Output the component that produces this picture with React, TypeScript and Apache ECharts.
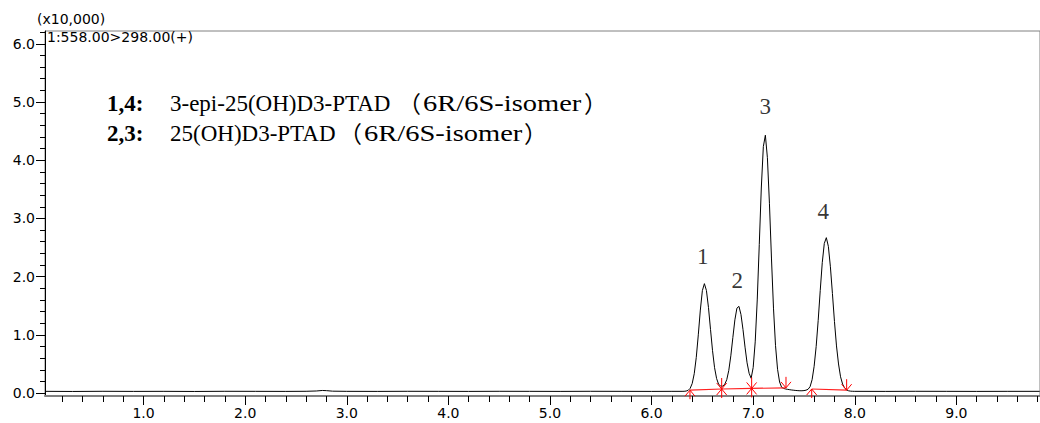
import React, { useEffect, useRef } from "react";
import * as echarts from "echarts";

// ---- chromatogram trace (retention time in min, intensity x10,000) ----
const traceTimes = [
  0.03, 0.3, 0.6, 0.9, 1.2, 1.5, 1.8, 2.1, 2.4, 2.6, 2.7, 2.76, 2.8, 2.86, 3.0,
  3.3, 3.6, 3.9, 4.2, 4.5, 4.8, 5.1, 5.4, 5.7, 6.0, 6.2,
  6.30, 6.32, 6.34, 6.36, 6.38, 6.40, 6.42, 6.44, 6.46, 6.48,
  6.50, 6.52, 6.54, 6.56, 6.58, 6.60, 6.62, 6.64, 6.66, 6.68,
  6.70, 6.72, 6.74, 6.76, 6.78, 6.80, 6.82, 6.84, 6.86, 6.88,
  6.90, 6.92, 6.94, 6.96, 6.98, 7.00, 7.02, 7.04, 7.06, 7.08,
  7.10, 7.12, 7.14, 7.16, 7.18, 7.20, 7.22, 7.24, 7.26, 7.28,
  7.30, 7.32, 7.34, 7.36, 7.38, 7.40, 7.42, 7.44, 7.46, 7.48,
  7.50, 7.52, 7.54, 7.56, 7.58, 7.60, 7.62, 7.64, 7.66, 7.68,
  7.70, 7.72, 7.74, 7.76, 7.78, 7.80, 7.82, 7.84, 7.86, 7.88,
  7.90, 7.92, 7.94, 7.96, 7.98, 8.00,
  8.3, 8.6, 8.9, 9.2, 9.5, 9.82,
];
const traceIntensity = [
  0.030, 0.028, 0.031, 0.029, 0.030, 0.028, 0.031, 0.030, 0.029, 0.031, 0.036, 0.045, 0.042, 0.033, 0.030,
  0.029, 0.031, 0.030, 0.029, 0.031, 0.030, 0.029, 0.031, 0.030, 0.029, 0.030,
  0.030, 0.031, 0.035, 0.047, 0.082, 0.165, 0.333, 0.613, 1.001, 1.426,
  1.760, 1.880, 1.762, 1.471, 1.094, 0.728, 0.436, 0.250, 0.150, 0.122,
  0.120, 0.150, 0.230, 0.390, 0.640, 0.954, 1.258, 1.459, 1.490, 1.349,
  1.090, 0.789, 0.520, 0.340, 0.255, 0.440, 0.880, 1.600, 2.551, 3.523,
  4.234, 4.430, 4.044, 3.261, 2.320, 1.459, 0.815, 0.409, 0.191, 0.100,
  0.080, 0.070, 0.064, 0.058, 0.053, 0.049, 0.045, 0.042, 0.040, 0.040,
  0.043, 0.050, 0.065, 0.110, 0.230, 0.460, 0.800, 1.250, 1.760, 2.240,
  2.570, 2.670, 2.520, 2.170, 1.710, 1.230, 0.810, 0.500, 0.280, 0.155,
  0.087, 0.053, 0.039, 0.033, 0.031, 0.030,
  0.029, 0.031, 0.030, 0.029, 0.030, 0.030,
];

// ---- integration baselines (red) ----
const baselineA = [
  [6.378, 0.05],
  [6.69, 0.07],
  [6.985, 0.08],
  [7.323, 0.09],
];
const baselineB = [
  [7.576, 0.07],
  [7.92, 0.05],
];

// ---- integration markers: 0 = peak start, 1 = peak end, 2 = end+start ----
const markerTimes = [6.378, 6.69, 6.985, 7.323, 7.576, 7.92];
const markerLevels = [0.05, 0.07, 0.08, 0.09, 0.07, 0.05];
const markerKinds = [0, 2, 2, 1, 0, 1];

// ---- peak numbers ----
const peakLabels = ["1", "2", "3", "4"];
const peakLabelTimes = [6.503, 6.843, 7.118, 7.69];
const peakLabelLevels = [2.34, 1.93, 4.93, 3.115];

// ---- axes ----
const X_MIN = 0.03;
const X_MAX = 9.823;
const Y_MIN = -0.05;
const Y_MAX = 6.22;
const xMajorTicks = [1, 2, 3, 4, 5, 6, 7, 8, 9];
const yMajorTicks = [0, 1, 2, 3, 4, 5, 6];

function minorTicks(from: number, to: number): number[] {
  const out: number[] = [];
  for (let i = Math.round(from * 5); i <= Math.round(to * 5); i++) {
    if (i % 5 !== 0) out.push(+(i / 5).toFixed(1));
  }
  return out;
}
const xMinorTicks = minorTicks(0.2, 9.8);
const yMinorTicks = minorTicks(0.2, 6.2);

const SANS = '"DejaVu Sans", sans-serif';
const SERIF = '"Liberation Serif", "Noto Sans CJK SC", serif';
const CJK = '"Noto Sans CJK SC", serif';

function legendLine(y: number, tag: string, name: string, parenX: number, closeX: number) {
  const base = { fill: "#000", fontSize: 23, verticalAlign: "middle" };
  return [
    { type: "text", x: 107, y, style: { ...base, text: tag, fontFamily: SERIF, fontWeight: "bold" } },
    { type: "text", x: 170, y, style: { ...base, text: name, fontFamily: SERIF } },
    { type: "text", x: parenX, y, style: { ...base, text: "（", fontFamily: CJK } },
    {
      type: "text",
      x: parenX + 25,
      y,
      scaleX: 1.24,
      style: { ...base, text: "6R/6S-isomer", fontFamily: SERIF },
    },
    { type: "text", x: closeX, y, style: { ...base, text: "）", fontFamily: CJK } },
  ];
}

export default function App() {
  const ref = useRef<HTMLDivElement>(null);

  useEffect(() => {
    if (!ref.current) return;
    const chart = echarts.init(ref.current, undefined, { renderer: "svg" });

    const trace = traceTimes.map((t, i) => [t, traceIntensity[i]]);
    const markers = markerTimes.map((t, i) => [t, markerLevels[i], markerKinds[i]]);
    const peaks = peakLabels.map((l, i) => [peakLabelTimes[i], peakLabelLevels[i], l]);

    const baseX = {
      type: "value",
      min: X_MIN,
      max: X_MAX,
      position: "bottom",
      splitLine: { show: false },
    };
    const baseY = {
      type: "value",
      min: Y_MIN,
      max: Y_MAX,
      position: "left",
      splitLine: { show: false },
    };

    chart.setOption({
      animation: false,
      backgroundColor: "#fff",
      grid: {
        left: 45,
        top: 31,
        right: 0,
        bottom: 27,
        show: true,
        borderColor: "#808080",
        borderWidth: 1,
        outerBoundsMode: "none",
      },
      xAxis: [
        {
          ...baseX,
          axisLine: { show: true, onZero: false, lineStyle: { color: "#808080", width: 2 } },
          axisTick: {
            show: true,
            customValues: xMajorTicks,
            length: 9,
            lineStyle: { color: "#000", width: 1 },
          },
          axisLabel: {
            show: true,
            customValues: xMajorTicks,
            formatter: (v: number) => v.toFixed(1),
            margin: 10,
            color: "#000",
            fontFamily: SANS,
            fontSize: 14,
          },
        },
        {
          ...baseX,
          axisLine: { show: false, onZero: false },
          axisTick: {
            show: true,
            customValues: xMinorTicks,
            length: 6,
            lineStyle: { color: "#000", width: 1 },
          },
          axisLabel: { show: false },
        },
      ],
      yAxis: [
        {
          ...baseY,
          axisLine: { show: true, onZero: false, lineStyle: { color: "#000", width: 1 } },
          axisTick: {
            show: true,
            customValues: yMajorTicks,
            length: 9,
            lineStyle: { color: "#000", width: 1 },
          },
          axisLabel: {
            show: true,
            customValues: yMajorTicks,
            formatter: (v: number) => v.toFixed(1),
            margin: 10,
            color: "#000",
            fontFamily: SANS,
            fontSize: 14,
          },
        },
        {
          ...baseY,
          axisLine: { show: false, onZero: false },
          axisTick: {
            show: true,
            customValues: yMinorTicks,
            length: 5,
            lineStyle: { color: "#000", width: 1 },
          },
          axisLabel: { show: false },
        },
      ],
      graphic: [
        {
          type: "text",
          left: 37,
          top: 12,
          style: { text: "(x10,000)", fontFamily: SANS, fontSize: 14, fill: "#000" },
        },
        {
          type: "text",
          left: 47,
          top: 30,
          style: { text: "1:558.00>298.00(+)", fontFamily: SANS, fontSize: 14, fill: "#000" },
        },
        ...legendLine(103, "1,4:", "3-epi-25(OH)D3-PTAD", 398, 584),
        ...legendLine(133, "2,3:", "25(OH)D3-PTAD", 339, 524),
      ],
      series: [
        {
          type: "line",
          xAxisIndex: 0,
          yAxisIndex: 0,
          data: trace,
          symbol: "none",
          lineStyle: { color: "#000", width: 1 },
          z: 2,
        },
        {
          type: "line",
          xAxisIndex: 0,
          yAxisIndex: 0,
          data: baselineA,
          symbol: "none",
          lineStyle: { color: "#ff2020", width: 1.2 },
          z: 3,
        },
        {
          type: "line",
          xAxisIndex: 0,
          yAxisIndex: 0,
          data: baselineB,
          symbol: "none",
          lineStyle: { color: "#ff2020", width: 1.2 },
          z: 3,
        },
        {
          type: "custom",
          xAxisIndex: 0,
          yAxisIndex: 0,
          clip: false,
          z: 4,
          data: markers,
          renderItem: (params: any, api: any) => {
            const p = api.coord([api.value(0), api.value(1)]);
            const kind = api.value(2);
            const x = p[0];
            const y = p[1];
            const st = { stroke: "#ff0000", lineWidth: 1 };
            const children: any[] = [];
            if (kind === 0 || kind === 2) {
              children.push(
                { type: "line", shape: { x1: x, y1: y, x2: x, y2: y + 9 }, style: st },
                { type: "line", shape: { x1: x, y1: y, x2: x - 5, y2: y + 6 }, style: st },
                { type: "line", shape: { x1: x, y1: y, x2: x + 5, y2: y + 6 }, style: st }
              );
            }
            if (kind === 1 || kind === 2) {
              children.push(
                { type: "line", shape: { x1: x, y1: y - 11, x2: x, y2: y }, style: st },
                { type: "line", shape: { x1: x, y1: y, x2: x - 5, y2: y - 6 }, style: st },
                { type: "line", shape: { x1: x, y1: y, x2: x + 5, y2: y - 6 }, style: st }
              );
            }
            return { type: "group", children };
          },
        },
        {
          type: "scatter",
          xAxisIndex: 0,
          yAxisIndex: 0,
          data: peaks,
          symbolSize: 1,
          itemStyle: { color: "rgba(0,0,0,0)" },
          label: {
            show: true,
            position: "inside",
            formatter: (p: any) => p.value[2],
            fontFamily: SERIF,
            fontSize: 23,
            color: "#000",
          },
          z: 5,
        },
      ],
    });

    return () => chart.dispose();
  }, []);

  return (
    <div
      ref={ref}
      style={{ position: "fixed", left: 0, top: 0, width: 1040, height: 423, background: "#fff" }}
    />
  );
}
